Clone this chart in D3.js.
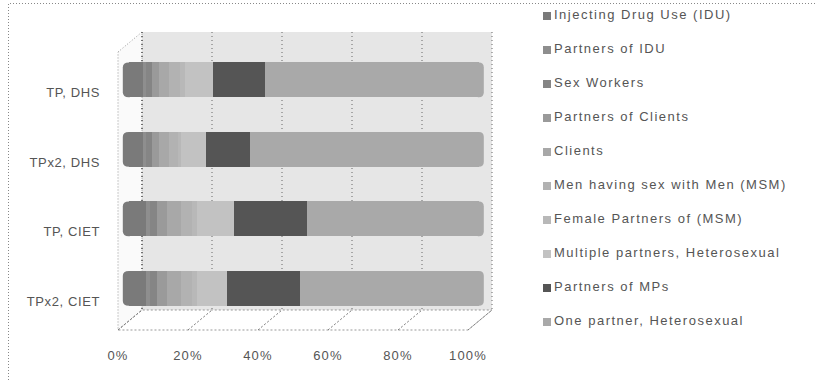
<!DOCTYPE html>
<html>
<head>
<meta charset="utf-8">
<script src="https://cdn.jsdelivr.net/npm/d3@7"></script>
<style>
  html, body { margin: 0; padding: 0; background: #fff; }
  svg { display: block; font-family: "Liberation Sans", "DejaVu Sans", sans-serif; }
</style>
</head>
<body>
<svg id="chart" width="817" height="380"></svg>
<script>
// Survey arms shown as rows of the 100% stacked bar chart
const categories = ["TP, DHS", "TPx2, DHS", "TP, CIET", "TPx2, CIET"];

// Risk groups, stacked left to right in this order
const seriesNames = [
  "Injecting Drug Use (IDU)",
  "Partners of IDU",
  "Sex Workers",
  "Partners of Clients",
  "Clients",
  "Men having sex with Men (MSM)",
  "Female Partners of  (MSM)",
  "Multiple partners, Heterosexual",
  "Partners of MPs",
  "One partner, Heterosexual"
];

// Share (%) of each risk group per row, one array per group
const idu            = [4, 4, 5, 5];
const partnersIdu    = [1, 1, 1, 1];
const sexWorkers     = [1.5, 1.5, 2, 2];
const partnersClients= [2, 2, 3, 3];
const clients        = [3, 3, 4, 4];
const msm            = [3, 2.5, 3, 3];
const femaleMsm      = [1.5, 1, 1.5, 1.5];
const multiple       = [8, 7, 10.5, 8.5];
const partnersMPs    = [15, 12.5, 21, 21];
const onePartner     = [61, 65.5, 49, 51];

const seriesValues = [idu, partnersIdu, sexWorkers, partnersClients, clients,
                      msm, femaleMsm, multiple, partnersMPs, onePartner];

const xTicks = [0, 20, 40, 60, 80, 100];
const xTickLabels = ["0%", "20%", "40%", "60%", "80%", "100%"];

// Grey tones for each group
const fills = ["#7a7a7a", "#8e8e8e", "#858585", "#9a9a9a", "#a8a8a8",
               "#b2b2b2", "#b8b8b8", "#c2c2c2", "#555555", "#a9a9a9"];

const textColor = "#555";

const svg = d3.select("#chart");

// Frame edges
svg.append("path")
  .attr("d", "M8.5,380 V3.5 H817")
  .attr("fill", "none").attr("stroke", "#888").attr("stroke-width", 1)
  .attr("stroke-dasharray", "1,2");

// Plot geometry (front face of the floor and the 3-D depth offset)
const front = { x0: 118, x1: 468, yTop: 52, yBottom: 330 };
const depth = { dx: 24, dy: -20 };

const x = d3.scaleLinear().domain([0, 100]).range([front.x0, front.x1]);
const y = d3.scaleBand().domain(categories)
  .range([front.yTop + 3, front.yBottom + 3]).paddingInner(0.5).paddingOuter(0.25);

const g = svg.append("g");

// Back wall
g.append("rect")
  .attr("x", x(0) + depth.dx).attr("y", front.yTop + depth.dy)
  .attr("width", x(100) - x(0)).attr("height", front.yBottom - front.yTop)
  .attr("fill", "#e6e6e6");

// Side wall
g.append("path")
  .attr("d", `M${x(0)},${front.yTop} L${x(0)+depth.dx},${front.yTop+depth.dy}
              L${x(0)+depth.dx},${front.yBottom+depth.dy} L${x(0)},${front.yBottom} Z`)
  .attr("fill", "#fafafa").attr("stroke", "#999").attr("stroke-dasharray", "1,2");

// Floor
g.append("path")
  .attr("d", `M${x(0)},${front.yBottom} L${x(0)+depth.dx},${front.yBottom+depth.dy}
              L${x(100)+depth.dx},${front.yBottom+depth.dy} L${x(100)},${front.yBottom} Z`)
  .attr("fill", "#fff").attr("stroke", "#999").attr("stroke-dasharray", "2,2");

// Gridlines on back wall and their floor diagonals
xTicks.forEach(t => {
  g.append("line")
    .attr("x1", x(t) + depth.dx).attr("x2", x(t) + depth.dx)
    .attr("y1", front.yTop + depth.dy).attr("y2", front.yBottom + depth.dy)
    .attr("stroke", "#666").attr("stroke-width", t === 0 ? 1.8 : 1)
    .attr("stroke-dasharray", "1,3");
  g.append("line")
    .attr("x1", x(t)).attr("y1", front.yBottom)
    .attr("x2", x(t) + depth.dx).attr("y2", front.yBottom + depth.dy)
    .attr("stroke", "#777").attr("stroke-dasharray", "2,2");
});

// Stacked bars, drawn half-way into the depth
const stack = d3.stack().keys(d3.range(seriesNames.length))
  .value((row, k) => seriesValues[k][row]);
const stacked = stack(d3.range(categories.length));

const midDx = depth.dx * 0.45, midDy = depth.dy * 0.5;
const barX = v => x(v) + midDx;

// Rounded end caps of the bars (drawn under the segments so they join cleanly)
categories.forEach((c, i) => {
  const top = y(c) + midDy, h = y.bandwidth();
  g.append("path")
    .attr("d", `M${barX(0) + 1},${top} h-1 q-6,0 -6,5 v${h-10} q0,5 6,5 h1 Z`)
    .attr("fill", fills[0]);
  g.append("path")
    .attr("d", `M${barX(100) - 1},${top} h1 q5,0 5,5 v${h-10} q0,5 -5,5 h-1 Z`)
    .attr("fill", fills[fills.length - 1]);
});

stacked.forEach((layer, k) => {
  g.selectAll(null).data(layer).join("rect")
    .attr("x", d => barX(d[0]))
    .attr("y", (d, i) => y(categories[i]) + midDy)
    .attr("width", d => Math.max(0, barX(d[1]) - barX(d[0])))
    .attr("height", y.bandwidth())
    .attr("fill", fills[k])
    .attr("shape-rendering", "crispEdges");
});

// Category labels
g.selectAll(null).data(categories).join("text")
  .attr("x", 100)
  .attr("y", d => y(d) + y.bandwidth() * 0.62)
  .attr("text-anchor", "end").attr("dominant-baseline", "middle")
  .attr("font-size", 13).attr("letter-spacing", 0.6).attr("fill", textColor)
  .text(d => d);

// X tick labels
g.selectAll(null).data(xTicks).join("text")
  .attr("x", d => x(d)).attr("y", 357)
  .attr("text-anchor", "middle").attr("dominant-baseline", "middle")
  .attr("font-size", 13).attr("letter-spacing", 1.2).attr("fill", textColor)
  .text((d, i) => xTickLabels[i]);

// Legend
const legend = svg.append("g").attr("transform", "translate(543,0)");
const legendY = d3.scalePoint().domain(seriesNames).range([16, 322]);
seriesNames.forEach((name, k) => {
  legend.append("rect")
    .attr("x", 0).attr("y", legendY(name) - 4).attr("width", 8).attr("height", 8)
    .attr("fill", fills[k]);
  legend.append("text")
    .attr("x", 11).attr("y", legendY(name))
    .attr("dominant-baseline", "middle")
    .attr("font-size", 13).attr("letter-spacing", 1.5).attr("fill", textColor)
    .text(name);
});
</script>
</body>
</html>
